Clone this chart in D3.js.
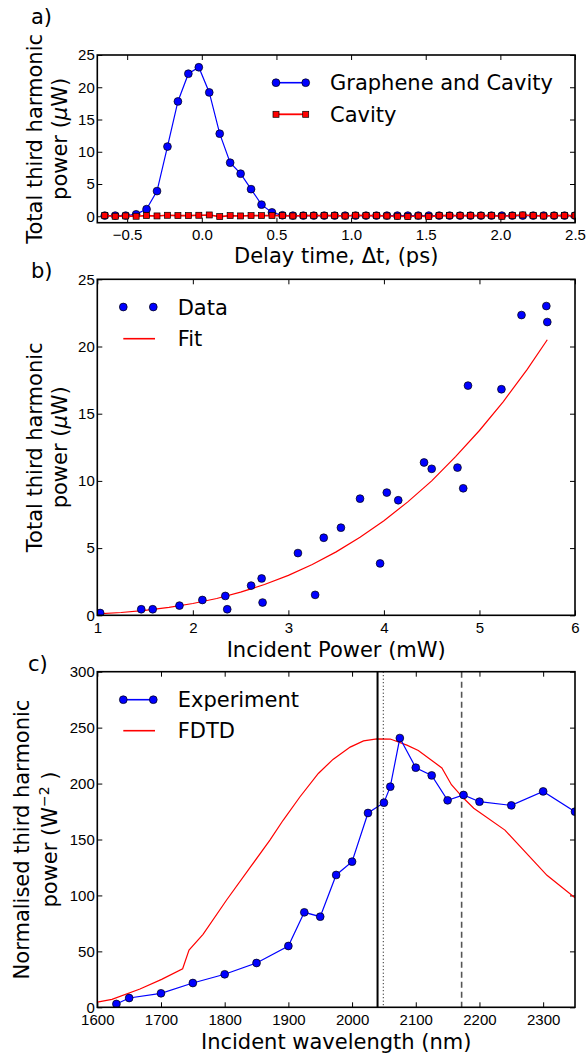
<!DOCTYPE html>
<html>
<head>
<meta charset="UTF-8">
<title>Third harmonic power</title>
<style>
body { margin: 0; background: #fff; }
svg { display: block; font-family: "DejaVu Sans", sans-serif; }
.tick text { font-size: 15px; fill: #000; }
.tick line { stroke: #000; stroke-width: 1; }
.label { font-size: 21px; fill: #000; }
.frame { fill: none; stroke: #000; stroke-width: 1.6; }
</style>
</head>
<body>
<svg width="586" height="1057"></svg>
<script src="https://cdn.jsdelivr.net/npm/d3@7"></script>
<script>
// a) delay scan
var delayTimes = [-0.65, -0.58, -0.51, -0.44, -0.37, -0.30, -0.23, -0.16, -0.09, -0.02,
  0.05, 0.12, 0.19, 0.26, 0.33, 0.40, 0.47, 0.54, 0.61, 0.68, 0.75, 0.82, 0.89, 0.96,
  1.03, 1.10, 1.17, 1.24, 1.31, 1.38, 1.45, 1.52, 1.59, 1.66, 1.73, 1.80, 1.87, 1.94,
  2.01, 2.08, 2.15, 2.22, 2.29, 2.36, 2.43, 2.50];
var grapheneCavity = [0.1, 0.1, 0.1, 0.3, 1.1, 3.9, 10.8, 17.8, 22.1, 23.1,
  19.2, 12.8, 8.3, 6.6, 4.2, 1.8, 0.6, 0.15, 0.1, 0.1, 0.1, 0.1, 0.1, 0.1,
  0.1, 0.1, 0.1, 0.1, 0.1, 0.1, 0.1, 0.1, 0.1, 0.1, 0.1, 0.1, 0.1, 0.1,
  0.1, 0.1, 0.1, 0.1, 0.1, 0.1, 0.1, 0.1];
var cavityOnly = [0.1, 0.0, 0.05, 0.0, 0.1, 0.05, 0.15, 0.1, 0.1, 0.15,
  0.2, -0.05, 0.1, 0.05, 0.1, 0.1, 0.1, 0.1, 0.05, 0.1, 0.1, 0.1, 0.1, 0.05,
  0.15, 0.1, 0.1, 0.05, 0.0, -0.05, 0.05, -0.05, 0.1, 0.1, 0.1, 0.1, 0.1, 0.1,
  0.0, 0.1, 0.2, 0.1, 0.05, 0.1, 0.1, 0.1];

// b) power dependence
var incidentPower = [1.03, 1.46, 1.58, 1.86, 2.10, 2.34, 2.36, 2.61, 2.72, 2.73,
  3.10, 3.28, 3.37, 3.55, 3.75, 3.96, 4.03, 4.15, 4.42, 4.50, 4.77, 4.83, 4.88,
  5.23, 5.44, 5.70, 5.71];
var thPower = [0.17, 0.45, 0.45, 0.72, 1.14, 1.44, 0.45, 2.21, 2.74, 0.95,
  4.63, 1.52, 5.77, 6.52, 8.68, 3.86, 9.13, 8.56, 11.37, 10.90, 10.99, 9.45, 17.09,
  16.82, 22.34, 23.01, 21.82];
var fitPower = [1.0, 1.25, 1.5, 1.75, 2.0, 2.25, 2.5, 2.75, 3.0, 3.25, 3.5, 3.75,
  4.0, 4.25, 4.5, 4.75, 5.0, 5.25, 5.5, 5.71];
var fitValues = [0.11, 0.21, 0.37, 0.59, 0.88, 1.25, 1.72, 2.29, 2.97, 3.78, 4.72, 5.80,
  7.04, 8.44, 10.0, 11.8, 13.75, 15.9, 18.3, 20.5];

// c) wavelength dependence
var expWavelength = [1630, 1650, 1700, 1750, 1800, 1850, 1900, 1925, 1950, 1975, 2000,
  2025, 2050, 2060, 2075, 2100, 2125, 2150, 2175, 2200, 2250, 2300, 2350];
var expValues = [3.0, 8.3, 12.5, 21.7, 29.5, 39.6, 54.8, 84.9, 81.0, 118.3, 130.2,
  173.7, 182.9, 197.2, 240.7, 214.2, 207.3, 185.0, 189.8, 183.8, 180.5, 193.0, 174.9];
var fdtdWavelength = [1600, 1623, 1667, 1701, 1734, 1744, 1766, 1803, 1840, 1871, 1892,
  1918, 1947, 1970, 1997, 2018, 2039, 2060, 2086, 2104, 2122, 2141, 2156, 2174, 2191,
  2240, 2306, 2350];
var fdtdValues = [4.7, 7.1, 16.4, 25, 34.5, 51.2, 65.2, 95.9, 125, 149.5, 167.4,
  188, 209, 221.6, 232.6, 238.2, 240, 239.8, 234.4, 229.5, 222, 214, 199, 187.5, 178,
  158.4, 118, 98];
var markerLines = [2040, 2049, 2172];

var xTicksA = [-0.5, 0, 0.5, 1, 1.5, 2, 2.5], yTicksA = [0, 5, 10, 15, 20, 25];
var xTicksB = [1, 2, 3, 4, 5, 6], yTicksB = [0, 5, 10, 15, 20, 25];
var xTicksC = [1600, 1700, 1800, 1900, 2000, 2100, 2200, 2300], yTicksC = [0, 50, 100, 150, 200, 250, 300];

var svg = d3.select("svg"),
    left = 97.3,
    right = 575,
    blue = "#0000ff",
    red = "#ff0000";

function panel(id, top, bottom, xDom, yDom, xTicks, yTicks, xFmt) {
  var x = d3.scaleLinear().domain(xDom).range([left, right]),
      y = d3.scaleLinear().domain(yDom).range([bottom, top]);

  svg.append("clipPath").attr("id", id)
    .append("rect")
      .attr("x", left).attr("y", top)
      .attr("width", right - left).attr("height", bottom - top);

  var axes = svg.append("g");
  axes.append("g").attr("transform", "translate(0," + bottom + ")")
      .call(d3.axisBottom(x).tickValues(xTicks).tickFormat(xFmt).tickSize(-5).tickPadding(7));
  axes.append("g").attr("transform", "translate(0," + top + ")")
      .call(d3.axisTop(x).tickValues(xTicks).tickFormat("").tickSize(-5));
  axes.append("g").attr("transform", "translate(" + left + ",0)")
      .call(d3.axisLeft(y).tickValues(yTicks).tickFormat(d3.format("d")).tickSize(-5).tickPadding(2.5));
  axes.append("g").attr("transform", "translate(" + right + ",0)")
      .call(d3.axisRight(y).tickValues(yTicks).tickFormat("").tickSize(-5));
  axes.selectAll(".domain").remove();
  axes.selectAll(".tick text").attr("font-family", null).attr("font-size", null);

  var plot = svg.append("g").attr("clip-path", "url(#" + id + ")");
  return {x: x, y: y, plot: plot, top: top, bottom: bottom};
}

function frame(p) {
  svg.append("rect").attr("class", "frame")
    .attr("x", left).attr("y", p.top)
    .attr("width", right - left).attr("height", p.bottom - p.top);
}

function yLabel(p, line1, baseline1, baseline2) {
  var cy = (p.top + p.bottom) / 2;
  svg.append("text").attr("class", "label")
    .attr("text-anchor", "middle")
    .attr("transform", "translate(" + baseline1 + "," + cy + ") rotate(-90)")
    .text(line1);
  return svg.append("text").attr("class", "label")
    .attr("text-anchor", "middle")
    .attr("transform", "translate(" + baseline2 + "," + cy + ") rotate(-90)");
}

function circles(g, xs, ys, sx, sy) {
  g.selectAll(null).data(xs).enter().append("circle")
    .attr("cx", d => sx(d))
    .attr("cy", (d, i) => sy(ys[i]))
    .attr("r", 3.9)
    .attr("fill", blue)
    .attr("stroke", "#000")
    .attr("stroke-width", 0.7);
}

// ---------------- panel a ----------------
var pa = panel("clipA", 55, 222.7, [-0.7, 2.5], [-1, 25], xTicksA, yTicksA, d3.format(".1f"));
var lineA = d3.line().x(d => pa.x(d[0])).y(d => pa.y(d[1]));

pa.plot.append("path")
  .attr("d", lineA(d3.zip(delayTimes, grapheneCavity)))
  .attr("fill", "none").attr("stroke", blue).attr("stroke-width", 1.2);
circles(pa.plot, delayTimes, grapheneCavity, pa.x, pa.y);

pa.plot.append("path")
  .attr("d", lineA(d3.zip(delayTimes, cavityOnly)))
  .attr("fill", "none").attr("stroke", red).attr("stroke-width", 1.6);
pa.plot.selectAll(null).data(delayTimes).enter().append("rect")
  .attr("x", d => pa.x(d) - 3)
  .attr("y", (d, i) => pa.y(cavityOnly[i]) - 3)
  .attr("width", 6).attr("height", 6)
  .attr("fill", red).attr("stroke", "#000").attr("stroke-width", 0.7);
frame(pa);

// legend a
var legA = svg.append("g");
legA.append("line").attr("x1", 276).attr("x2", 305.7).attr("y1", 82.7).attr("y2", 82.7)
  .attr("stroke", blue).attr("stroke-width", 1.6);
circles(legA, [276, 305.7], [82.7, 82.7], d => d, d => d);
legA.append("line").attr("x1", 276).attr("x2", 305.7).attr("y1", 114.3).attr("y2", 114.3)
  .attr("stroke", red).attr("stroke-width", 1.8);
legA.selectAll(null).data([276, 305.7]).enter().append("rect")
  .attr("x", d => d - 3).attr("y", 111.3).attr("width", 6).attr("height", 6)
  .attr("fill", red).attr("stroke", "#000").attr("stroke-width", 0.7);
legA.append("text").attr("class", "label").attr("x", 330).attr("y", 90.3).text("Graphene and Cavity");
legA.append("text").attr("class", "label").attr("x", 330).attr("y", 121.9).text("Cavity");

svg.append("text").attr("class", "label").attr("x", 336.2).attr("y", 263.3)
  .attr("text-anchor", "middle").text("Delay time, \u0394t, (ps)");
var la = yLabel(pa, "Total third harmonic", 41.5, 66.5);
la.append("tspan").text("power (");
la.append("tspan").attr("font-style", "italic").text("\u03bc");
la.append("tspan").text("W)");
svg.append("text").attr("class", "label").attr("x", 31).attr("y", 24).text("a)");

// ---------------- panel b ----------------
var pb = panel("clipB", 279.3, 615.3, [1, 6], [0, 25], xTicksB, yTicksB, d3.format("d"));
var lineB = d3.line().x(d => pb.x(d[0])).y(d => pb.y(d[1]));

pb.plot.append("path")
  .attr("d", lineB(d3.zip(fitPower, fitValues)))
  .attr("fill", "none").attr("stroke", red).attr("stroke-width", 1.2);
circles(pb.plot, incidentPower, thPower, pb.x, pb.y);
frame(pb);

var legB = svg.append("g");
circles(legB, [123.3, 153.3], [307, 307], d => d, d => d);
legB.append("line").attr("x1", 123.3).attr("x2", 155).attr("y1", 338.7).attr("y2", 338.7)
  .attr("stroke", red).attr("stroke-width", 1.6);
legB.append("text").attr("class", "label").attr("x", 177.7).attr("y", 314.6).text("Data");
legB.append("text").attr("class", "label").attr("x", 177.7).attr("y", 346.3).text("Fit");

svg.append("text").attr("class", "label").attr("x", 336.2).attr("y", 657)
  .attr("text-anchor", "middle").text("Incident Power (mW)");
var lb = yLabel(pb, "Total third harmonic", 41.5, 66.5);
lb.append("tspan").text("power (");
lb.append("tspan").attr("font-style", "italic").text("\u03bc");
lb.append("tspan").text("W)");
svg.append("text").attr("class", "label").attr("x", 31).attr("y", 278).text("b)");

// ---------------- panel c ----------------
var pc = panel("clipC", 671.7, 1007.3, [1600, 2350], [0, 300], xTicksC, yTicksC, d3.format("d"));
var lineC = d3.line().x(d => pc.x(d[0])).y(d => pc.y(d[1]));

pc.plot.append("path")
  .attr("d", lineC(d3.zip(fdtdWavelength, fdtdValues)))
  .attr("fill", "none").attr("stroke", red).attr("stroke-width", 1.2);
pc.plot.append("path")
  .attr("d", lineC(d3.zip(expWavelength, expValues)))
  .attr("fill", "none").attr("stroke", blue).attr("stroke-width", 1.2);

var vStyles = [
  {stroke: "#000", width: 2, dash: null},
  {stroke: "#000", width: 1, dash: "1,2.5"},
  {stroke: "#555", width: 1.6, dash: "6,4"}
];
pc.plot.selectAll(null).data(markerLines).enter().append("line")
  .attr("x1", d => pc.x(d)).attr("x2", d => pc.x(d))
  .attr("y1", pc.top).attr("y2", pc.bottom)
  .attr("stroke", (d, i) => vStyles[i].stroke)
  .attr("stroke-width", (d, i) => vStyles[i].width)
  .attr("stroke-dasharray", (d, i) => vStyles[i].dash);
circles(pc.plot, expWavelength, expValues, pc.x, pc.y);
frame(pc);

var legC = svg.append("g");
legC.append("line").attr("x1", 123.3).attr("x2", 153.3).attr("y1", 699.7).attr("y2", 699.7)
  .attr("stroke", blue).attr("stroke-width", 1.6);
circles(legC, [123.3, 153.3], [699.7, 699.7], d => d, d => d);
legC.append("line").attr("x1", 123.3).attr("x2", 155).attr("y1", 730.7).attr("y2", 730.7)
  .attr("stroke", red).attr("stroke-width", 1.6);
legC.append("text").attr("class", "label").attr("x", 177.7).attr("y", 707.3).text("Experiment");
legC.append("text").attr("class", "label").attr("x", 177.7).attr("y", 738.3).text("FDTD");

svg.append("text").attr("class", "label").attr("x", 336.2).attr("y", 1049.3)
  .attr("text-anchor", "middle").text("Incident wavelength (nm)");
var lc = yLabel(pc, "Normalised third harmonic", 28.5, 56.5);
lc.append("tspan").text("power (W");
lc.append("tspan").attr("font-size", 14).attr("dy", -8).text("\u22122");
lc.append("tspan").attr("dy", 8).text(" )");
svg.append("text").attr("class", "label").attr("x", 28).attr("y", 671).text("c)");
</script>
</body>
</html>
